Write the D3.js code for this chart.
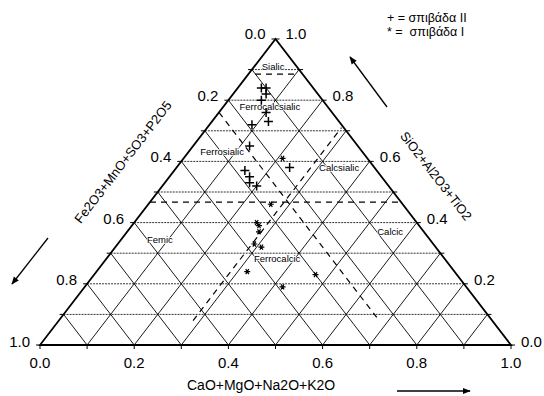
<!DOCTYPE html>
<html>
<head>
<meta charset="utf-8">
<script src="https://cdn.jsdelivr.net/npm/d3@7"></script>
<style>
  body { margin: 0; background: #fff; }
  svg { display: block; font-family: "Liberation Sans", Arial, sans-serif; }
</style>
</head>
<body>
<svg id="chart"></svg>
<script>
// tick labels (fractions) and grid steps
const tickValues = [0, 0.2, 0.4, 0.6, 0.8, 1.0];
const gridValues = [0.1, 0.2, 0.3, 0.4, 0.5, 0.6, 0.7, 0.8, 0.9];

// samples: [Fe2O3+MnO+SO3+P2O5, CaO+MgO+Na2O+K2O, SiO2+Al2O3+TiO2]
const layerII = [ // "+" σπιβάδα II
  [0.11, 0.05, 0.84],
  [0.10, 0.06, 0.84],
  [0.11, 0.07, 0.82],
  [0.13, 0.07, 0.80],
  [0.14, 0.10, 0.76],
  [0.15, 0.12, 0.73],
  [0.19, 0.09, 0.72],
  [0.23, 0.12, 0.65],
  [0.28, 0.15, 0.57],
  [0.28, 0.17, 0.55],
  [0.29, 0.18, 0.53],
  [0.28, 0.20, 0.52],
  [0.18, 0.24, 0.58]
];
const layerI = [ // "*" σπιβάδα I
  [0.18, 0.21, 0.61],
  [0.28, 0.26, 0.46],
  [0.34, 0.26, 0.40],
  [0.34, 0.27, 0.39],
  [0.35, 0.28, 0.37],
  [0.38, 0.29, 0.33],
  [0.37, 0.31, 0.32],
  [0.44, 0.32, 0.24],
  [0.39, 0.42, 0.19],
  [0.30, 0.47, 0.23]
];

// dashed field boundaries, each [start, end] as [fe, ca, si]
const boundaries = [
  [[0.101, 0.014, 0.885], [0.012, 0.103, 0.885]],
  [[0.533, 0.0, 0.467], [0.0, 0.533, 0.467]],
  [[0.24, 0.0, 0.76], [0.24, 0.67, 0.09]],
  [[0.635, 0.285, 0.08], [0.005, 0.285, 0.71]]
];

// field names and where they sit, [ca, si]
const fieldNames = ["Sialic", "Ferrocalcsialic", "Ferrosialic", "Calcsialic", "Femic", "Ferrocalcic", "Calcic"];
const fieldPos = [[0.041, 0.908], [0.099, 0.778], [0.071, 0.631], [0.346, 0.578], [0.083, 0.343], [0.363, 0.281], [0.559, 0.369]];

const width = 544, height = 396;
const svg = d3.select("#chart").attr("width", width).attr("height", height);

const x = d3.scaleLinear().domain([0, 1]).range([40, 511]);
const y = d3.scaleLinear().domain([0, 1]).range([345, 39]);

// ternary -> screen (ca along bottom, si up)
const px = (ca, si) => x(ca + si / 2);
const py = (si) => y(si);

const line = (a, b) => "M" + px(a[0], a[1]) + "," + py(a[1]) + "L" + px(b[0], b[1]) + "," + py(b[1]);

const grid = svg.append("g");
// horizontal lines (constant SiO2)
grid.selectAll(".h").data(gridValues).join("path")
  .attr("d", g => line([0, g], [1 - g, g]))
  .attr("stroke", "#333").attr("stroke-width", 1).attr("stroke-dasharray", "2,1").attr("fill", "none");
// constant CaO
grid.selectAll(".c").data(gridValues).join("path")
  .attr("d", g => line([g, 0], [g, 1 - g]))
  .attr("stroke", "#000").attr("stroke-width", 0.9).attr("fill", "none");
// constant Fe
grid.selectAll(".f").data(gridValues).join("path")
  .attr("d", g => line([1 - g, 0], [0, 1 - g]))
  .attr("stroke", "#000").attr("stroke-width", 0.9).attr("fill", "none");

// outline
svg.append("path")
  .attr("d", "M" + px(0, 0) + "," + py(0) + "L" + px(1, 0) + "," + py(0) + "L" + px(0, 1) + "," + py(1) + "Z")
  .attr("fill", "none").attr("stroke", "#000").attr("stroke-width", 1.8).attr("stroke-linejoin", "miter");

// ticks
const ticks = svg.append("g").attr("stroke", "#000").attr("stroke-width", 1);
const allTicks = [0].concat(gridValues, [1]);
ticks.selectAll(".tb").data(allTicks).join("line")
  .attr("x1", d => px(d, 0)).attr("x2", d => px(d, 0))
  .attr("y1", py(0)).attr("y2", py(0) + 4);
ticks.selectAll(".tl").data(allTicks).join("line")
  .attr("x1", d => px(0, d)).attr("x2", d => px(0, d) - 4)
  .attr("y1", d => py(d)).attr("y2", d => py(d));
ticks.selectAll(".tr").data(allTicks).join("line")
  .attr("x1", d => px(1 - d, d)).attr("x2", d => px(1 - d, d) + 4)
  .attr("y1", d => py(d)).attr("y2", d => py(d));

// tick labels
const fmt = d3.format(".1f");
const lbl = svg.append("g").attr("font-size", 15).attr("fill", "#000");
lbl.selectAll(".lb").data(tickValues).join("text")
  .attr("x", d => px(d, 0)).attr("y", py(0) + 23)
  .attr("text-anchor", "middle").text(d => fmt(d));
lbl.selectAll(".ll").data(tickValues).join("text")
  .attr("x", d => px(0, d) - 10).attr("y", d => py(d) + 2 - d * 2)
  .attr("text-anchor", "end").text(d => fmt(1 - d));
lbl.selectAll(".lr").data(tickValues).join("text")
  .attr("x", d => px(1 - d, d) + 10).attr("y", d => py(d) + 2 - d * 2)
  .text(d => fmt(d));

// dashed boundaries
svg.append("g").selectAll("path").data(boundaries).join("path")
  .attr("d", d => line([d[0][1], d[0][2]], [d[1][1], d[1][2]]))
  .attr("stroke", "#000").attr("stroke-width", 1.2).attr("stroke-dasharray", "6,5").attr("fill", "none");

// field names
svg.append("g").attr("font-size", 9.5).attr("fill", "#000")
  .selectAll("text").data(fieldNames).join("text")
  .attr("x", (d, i) => px(fieldPos[i][0], fieldPos[i][1]))
  .attr("y", (d, i) => py(fieldPos[i][1]) + 3)
  .attr("text-anchor", "middle")
  .attr("stroke", "#fff").attr("stroke-width", 1.5).attr("paint-order", "stroke")
  .text(d => d);

// markers
const plusPath = "M-4.5,0H4.5M0,-4.5V4.5";
const starPath = "M-3,0H3M-1.5,-2.6L1.5,2.6M-1.5,2.6L1.5,-2.6";
svg.append("g").selectAll("path").data(layerII).join("path")
  .attr("transform", d => "translate(" + px(d[1], d[2]) + "," + py(d[2]) + ")")
  .attr("d", plusPath).attr("stroke", "#000").attr("stroke-width", 1.5);
svg.append("g").selectAll("path").data(layerI).join("path")
  .attr("transform", d => "translate(" + px(d[1], d[2]) + "," + py(d[2]) + ")")
  .attr("d", starPath).attr("stroke", "#000").attr("stroke-width", 1.2);

// legend
const leg = svg.append("g").attr("font-size", 12.5).attr("fill", "#000");
leg.append("text").attr("x", 387).attr("y", 22).attr("xml:space", "preserve").text("+ = σπιβάδα II");
leg.append("text").attr("x", 387).attr("y", 36).attr("xml:space", "preserve").text("* =  σπιβάδα I");

// axis titles
svg.append("text").attr("x", 187).attr("y", 390).attr("font-size", 14).text("CaO+MgO+Na2O+K2O");
svg.append("text").attr("transform", "translate(123,162) rotate(-52.4)")
  .attr("text-anchor", "middle").attr("dominant-baseline", "central").attr("font-size", 13)
  .text("Fe2O3+MnO+SO3+P2O5");
svg.append("text").attr("transform", "translate(436,176) rotate(52.4)")
  .attr("text-anchor", "middle").attr("dominant-baseline", "central").attr("font-size", 13)
  .text("SiO2+Al2O3+TiO2");

// arrows
svg.append("defs").append("marker")
  .attr("id", "head").attr("viewBox", "0 0 10 10").attr("refX", 9).attr("refY", 5)
  .attr("markerWidth", 7).attr("markerHeight", 6).attr("orient", "auto")
  .append("path").attr("d", "M0,1L10,5L0,9Z").attr("fill", "#000");
const arrows = [[397, 391, 470, 391], [48, 238, 12, 284], [387, 107, 350, 57]];
svg.append("g").selectAll("line").data(arrows).join("line")
  .attr("x1", d => d[0]).attr("y1", d => d[1]).attr("x2", d => d[2]).attr("y2", d => d[3])
  .attr("stroke", "#000").attr("stroke-width", 1.3).attr("marker-end", "url(#head)");
</script>
</body>
</html>
